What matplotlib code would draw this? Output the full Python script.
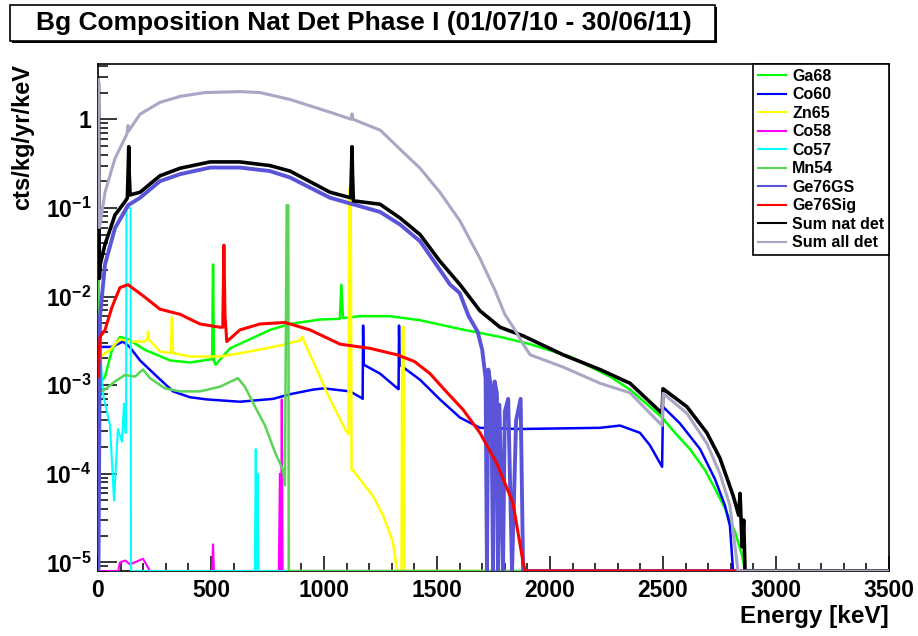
import numpy as np
import matplotlib
matplotlib.use("Agg")
import matplotlib.pyplot as plt
from matplotlib.patches import Rectangle
from matplotlib.ticker import LogLocator, MultipleLocator, NullFormatter

plt.rcParams['font.family'] = ['Liberation Sans', 'DejaVu Sans']
plt.rcParams['font.weight'] = 'bold'
plt.rcParams['mathtext.fontset'] = 'custom'
plt.rcParams['mathtext.rm'] = 'Liberation Sans:bold'
plt.rcParams['mathtext.it'] = 'Liberation Sans:bold'
plt.rcParams['mathtext.bf'] = 'Liberation Sans:bold'

title = "Bg Composition Nat Det Phase I (01/07/10 - 30/06/11)"

# spectra (energy in keV, cts/kg/yr/keV), 0 = empty bin
ga68_e = [2, 9, 31, 62, 97, 133, 208, 319, 407, 496, 505, 509, 513, 520, 584, 673, 761, 850, 982,
          1070, 1077, 1084, 1159, 1292, 1425, 1602, 1779, 1912, 2088, 2265, 2354, 2442, 2496, 2553,
          2619, 2686, 2730, 2774, 2819, 2850, 2863, 3500]
ga68_v = [2e-2, 1.05e-3, 1.25e-3, 2.5e-3, 3.5e-3, 3.3e-3, 2.5e-3, 1.9e-3, 1.8e-3, 1.95e-3, 1.95e-3,
          2.3e-2, 1.9e-3, 1.7e-3, 2.6e-3, 3.3e-3, 4.2e-3, 4.9e-3, 5.5e-3, 5.6e-3, 1.36e-2, 5.7e-3,
          6.0e-3, 6.0e-3, 5.4e-3, 4.3e-3, 3.5e-3, 2.9e-3, 2.1e-3, 1.25e-3, 8.9e-4, 5.7e-4, 4.3e-4,
          2.9e-4, 1.9e-4, 1.1e-4, 6.8e-5, 4.1e-5, 2.2e-5, 1.2e-5, 0, 0]

co60_e = [2, 10, 22, 60, 111, 140, 186, 261, 332, 407, 482, 628, 775, 850, 951, 1000, 1115, 1165,
          1171, 1173, 1176, 1248, 1325, 1330, 1332, 1335, 1425, 1513, 1602, 1690, 1867, 2221, 2310,
          2398, 2442, 2496, 2500, 2575, 2664, 2730, 2774, 2796, 2810, 3500]
co60_v = [2.7e-3, 2.7e-3, 2.7e-3, 2.7e-3, 3.1e-3, 2.7e-3, 1.9e-3, 1.25e-3, 8.5e-4, 7.3e-4, 6.9e-4,
          6.5e-4, 7.0e-4, 7.9e-4, 8.9e-4, 9.2e-4, 8.5e-4, 7.2e-4, 7.0e-4, 4.7e-3, 1.7e-3, 1.35e-3,
          9.2e-4, 9.0e-4, 4.7e-3, 1.7e-3, 1.15e-3, 6.9e-4, 4.3e-4, 3.3e-4, 3.2e-4, 3.3e-4, 3.5e-4,
          2.9e-4, 2.1e-4, 1.2e-4, 5.7e-4, 3.7e-4, 1.9e-4, 8.7e-5, 4.4e-5, 2.6e-5, 0, 0]

zn65_e = [2, 9, 53, 97, 142, 208, 218, 221, 224, 274, 322, 327, 332, 407, 540, 673, 805, 894, 903,
          982, 1027, 1093, 1108, 1112, 1118, 1122, 1128, 1173, 1217, 1261, 1305, 1323, 1343, 1346,
          1352, 1355, 1360, 3500]
zn65_v = [2.1e-3, 2.1e-3, 2.5e-3, 3.3e-3, 3.1e-3, 3.1e-3, 3.3e-3, 4.0e-3, 3.3e-3, 2.4e-3, 2.3e-3,
          5.8e-3, 2.3e-3, 2.1e-3, 2.1e-3, 2.4e-3, 2.8e-3, 3.2e-3, 3.5e-3, 1.25e-3, 6.9e-4, 3.2e-4,
          2.8e-4, 0.165, 0.165, 1.1e-4, 1.1e-4, 7.8e-5, 5.6e-5, 3.4e-5, 1.7e-5, 0, 0, 4.5e-3, 4.5e-3,
          0, 0, 0]

co58_e = [0, 90, 97, 120, 142, 199, 230, 240, 505, 509, 513, 800, 805, 808, 810, 813, 817, 3500]
co58_v = [0, 0, 1.0e-5, 1.05e-5, 9.5e-6, 1.1e-5, 0, 0, 0, 1.6e-5, 0, 0, 1.0e-4, 0, 0, 6.9e-4, 0, 0]

co57_e = [2, 5, 22, 53, 71, 88, 106, 115, 121, 124, 126, 136, 144, 146, 148, 694, 698, 702, 706,
          710, 3500]
co57_v = [4.5e-3, 4.0e-3, 7.9e-4, 3.5e-4, 5.0e-5, 3.2e-4, 2.3e-4, 6.2e-4, 2.9e-4, 2.9e-4, 0.1,
          0.1, 0.1, 0, 0, 0, 1.9e-4, 0, 1.0e-4, 0, 0]

mn54_e = [2, 3, 9, 31, 75, 119, 164, 199, 230, 296, 363, 451, 540, 619, 650, 695, 739, 783, 819,
          827, 835, 842, 844, 3500]
mn54_v = [2e-2, 8.5e-4, 8.5e-4, 8.9e-4, 1.1e-3, 1.3e-3, 1.25e-3, 1.5e-3, 1.2e-3, 9.2e-4, 8.5e-4,
          8.5e-4, 9.6e-4, 1.2e-3, 9.6e-4, 5.7e-4, 3.5e-4, 1.75e-4, 1.1e-4, 7.4e-5, 0.107, 0.107, 0, 0]

ge76gs_e = [2, 9, 31, 75, 133, 186, 274, 363, 496, 628, 761, 850, 1027, 1248, 1336, 1425, 1513,
            1558, 1600, 1640, 1680, 1700, 1715, 1721, 1727, 1740, 1748, 1755, 1765, 1770, 1776,
            1792, 1800, 1815, 1832, 1850, 1870, 1881, 1890, 3500]
ge76gs_v = [0, 6e-3, 2.3e-2, 5.9e-2, 0.107, 0.13, 0.2, 0.24, 0.285, 0.285, 0.26, 0.22, 0.13, 0.09,
            0.065, 0.042, 0.02, 0.0136, 0.011, 0.006, 0.004, 0.0025, 0.0012, 0, 0.0015, 0.0009, 0,
            0.0011, 0.0008, 0, 0.0006, 0, 0.0005, 0.0007, 0, 0.0004, 0.0007, 0, 0, 0]

ge76sig_e = [0, 9, 31, 62, 97, 133, 208, 274, 363, 451, 540, 552, 557, 562, 570, 628, 717, 827,
             938, 1071, 1204, 1323, 1400, 1469, 1540, 1615, 1690, 1765, 1836, 1881, 1890, 3500]
ge76sig_v = [1.25e-3, 3.5e-3, 4.2e-3, 7.6e-3, 1.26e-2, 1.36e-2, 9.8e-3, 7.2e-3, 6.3e-3, 4.9e-3,
             4.5e-3, 4.5e-3, 3.8e-2, 6e-3, 3.1e-3, 4.2e-3, 4.9e-3, 5.1e-3, 4.2e-3, 2.9e-3, 2.6e-3,
             2.2e-3, 1.85e-3, 1.35e-3, 8.5e-4, 5.3e-4, 2.9e-4, 1.3e-4, 4.7e-5, 1.0e-5, 0, 0]

sumnat_e = [2, 6, 10, 30, 75, 120, 130, 134, 136, 138, 142, 186, 274, 363, 496, 628, 761, 850,
            1027, 1118, 1122, 1124, 1126, 1130, 1248, 1336, 1425, 1513, 1602, 1690, 1779, 1881,
            2058, 2221, 2354, 2496, 2500, 2606, 2694, 2752, 2810, 2835, 2841, 2850, 2857, 2863,
            2870, 3500]
sumnat_v = [2.5, 0.016, 0.023, 0.038, 0.083, 0.118, 0.13, 0.3, 0.49, 0.25, 0.14, 0.15, 0.23, 0.28,
            0.33, 0.33, 0.30, 0.26, 0.15, 0.13, 0.3, 0.49, 0.25, 0.12, 0.11, 0.077, 0.05, 0.025,
            0.0136, 0.0069, 0.0045, 0.0036, 0.0022, 0.0015, 0.00105, 0.00048, 0.00091, 0.00057,
            0.00029, 0.00015, 5.7e-5, 3.4e-5, 6e-5, 1.5e-5, 3e-5, 0, 0, 0]

sumall_e = [2, 6, 10, 31, 75, 128, 133, 136, 186, 274, 363, 473, 628, 717, 850, 1027, 1120, 1124,
            1128, 1250, 1336, 1425, 1513, 1602, 1690, 1757, 1800, 1850, 1881, 1912, 2058, 2221,
            2354, 2496, 2500, 2606, 2694, 2752, 2796, 2832, 2840, 3500]
sumall_v = [2.8, 0.06, 0.067, 0.15, 0.36, 0.68, 0.85, 0.74, 1.14, 1.55, 1.81, 2.0, 2.05, 2.0, 1.67,
            1.2, 1.0, 1.15, 1.0, 0.75, 0.46, 0.28, 0.15, 0.071, 0.027, 0.0117, 0.0063, 0.004,
            0.0029, 0.0022, 0.0016, 0.00105, 0.00082, 0.00035, 0.00081, 0.00048, 0.00022, 0.0001,
            4.4e-5, 0, 0, 0]

labels = ["Ga68", "Co60", "Zn65", "Co58", "Co57", "Mn54", "Ge76GS", "Ge76Sig", "Sum nat det", "Sum all det"]
ytick_vals = [1e-5, 1e-4, 1e-3, 1e-2, 1e-1, 1]
ytick_labels = [r"$10^{-5}$", r"$10^{-4}$", r"$10^{-3}$", r"$10^{-2}$", r"$10^{-1}$", "1"]

series = [(ga68_e, ga68_v), (co60_e, co60_v), (zn65_e, zn65_v), (co58_e, co58_v),
          (co57_e, co57_v), (mn54_e, mn54_v), (ge76gs_e, ge76gs_v), (ge76sig_e, ge76sig_v),
          (sumnat_e, sumnat_v), (sumall_e, sumall_v)]
colors = ["#00ff00", "#0000ff", "#ffff00", "#ff00ff", "#00ffff", "#59d454", "#5954d8", "#ff0000",
          "#000000", "#aaa6c4"]
widths = [1.8, 1.8, 1.8, 1.5, 1.5, 1.8, 2.8, 2.2, 2.6, 2.2]

ymin, ymax = 8e-6, 4.2

fig = plt.figure(figsize=(9.18, 6.36), dpi=100)
ax = fig.add_axes([98/918, 1 - 571/636, (889 - 98)/918, (571 - 64)/636])

for i, ((e, v), c, lab, w) in enumerate(zip(series, colors, labels, widths)):
    # ROOT draws empty / underflow bins on the lower frame
    vv = np.maximum(np.array(v, dtype=float), ymin)
    ax.plot(e, vv, color=c, lw=w, label=lab, zorder=2 + i)

ax.set_yscale('log')
ax.set_xlim(0, 3500)
ax.set_ylim(ymin, ymax)

ax.set_yticks(ytick_vals)
ax.set_yticklabels(ytick_labels)
ax.yaxis.set_minor_locator(LogLocator(base=10, subs=np.arange(2, 10)))
ax.yaxis.set_minor_formatter(NullFormatter())
ax.xaxis.set_major_locator(MultipleLocator(500))
ax.xaxis.set_minor_locator(MultipleLocator(100))

ax.tick_params(axis='both', which='both', direction='in', top=False, right=False, width=1.1,
               labelsize=16.5)
ax.tick_params(axis='y', which='major', length=14, pad=5)
ax.tick_params(axis='y', which='minor', length=7)
ax.tick_params(axis='x', which='major', length=11, pad=6)
ax.tick_params(axis='x', which='minor', length=5.5)
for s in ax.spines.values():
    s.set_linewidth(1.2)

ax.set_ylabel("cts/kg/yr/keV", fontsize=17, fontweight='bold', loc='top', labelpad=8)
ax.set_xlabel("Energy [keV]", fontsize=17.5, fontweight='bold', loc='right', labelpad=2)

leg = ax.legend(loc='upper right', bbox_to_anchor=(1, 1), borderaxespad=0, fontsize=11.5,
                frameon=True, fancybox=False, edgecolor='black', framealpha=1,
                handlelength=1.8, handletextpad=0.35, labelspacing=0.22, borderpad=0.3)
leg.get_frame().set_linewidth(1.2)
leg.set_zorder(20)
for h in leg.get_lines():
    h.set_linewidth(1.5)

# title pave with shadow
fig.patches.append(Rectangle((12/918, 1 - 43/636), 705/918, 36/636, transform=fig.transFigure,
                             facecolor='black', edgecolor='black', lw=0))
fig.patches.append(Rectangle((10/918, 1 - 41/636), 705/918, 36/636, transform=fig.transFigure,
                             facecolor='white', edgecolor='black', lw=1.2))
fig.text(364/918, 1 - 23/636, title, ha='center', va='center', fontsize=19, fontweight='bold')

fig.savefig("out.png", dpi=100)
